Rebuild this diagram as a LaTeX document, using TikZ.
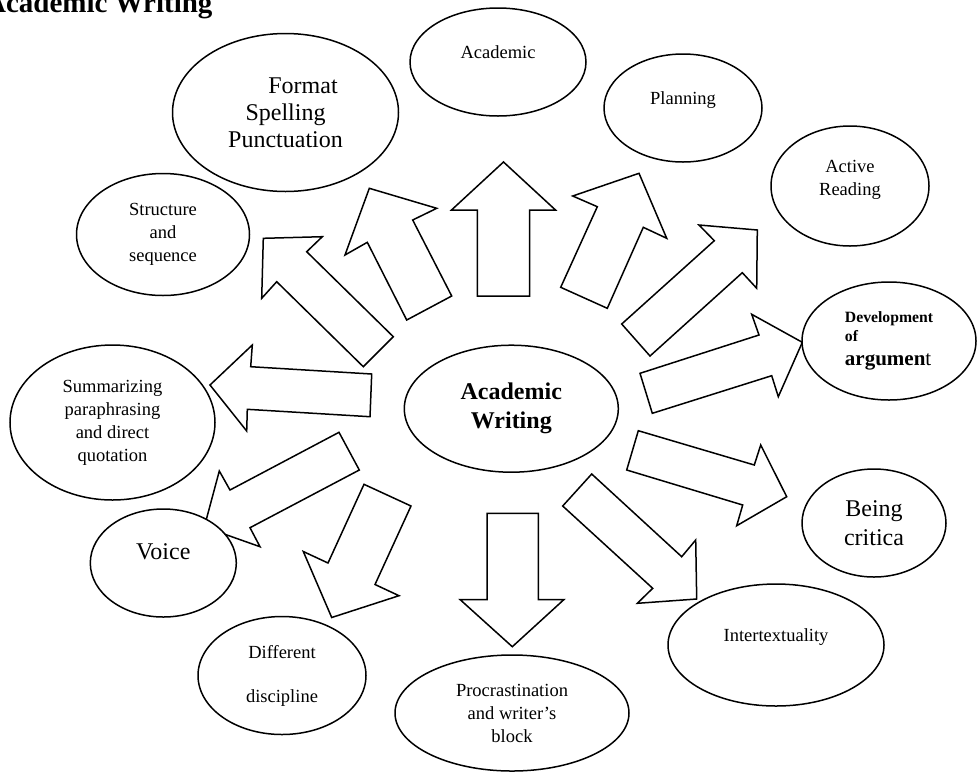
\documentclass[tikz,border=0pt]{standalone}
\usepackage{fontspec}
\setmainfont{Liberation Serif}
\usetikzlibrary{shapes.geometric}
\tikzstyle{bubble} = [ellipse, draw, line width=1.5pt, fill=white, inner sep=0pt, align=center]
\tikzstyle{blockarrow} = [draw, line width=1.5pt, fill=white, line join=miter]
\tikzstyle{smalltext} = [font=\fontsize{18.5}{23}\selectfont]
\tikzstyle{bigtext} = [font=\fontsize{24}{29}\selectfont]

\begin{document}
\begin{tikzpicture}[x=1pt, y=-1pt]
	\useasboundingbox (0,0) rectangle (979,772);
	\clip (0,0) rectangle (979,772);
	\node[anchor=base east, font=\fontsize{29}{35}\selectfont\bfseries] (title) at (216,12.7) {Academic Writing};
	% arrows
	\draw [blockarrow] (477.3,296) -- (477.3,210) -- (451.5,210) -- (503.5,162) -- (555.5,210) -- (529.5,210) -- (529.5,296) -- cycle;
	\draw [blockarrow] (560.7,287.3) -- (597.3,206.7) -- (572.7,196) -- (639,173.3) -- (666.7,238.3) -- (643.3,227.3) -- (607.3,308.3) -- cycle;
	\draw [blockarrow] (621.7,324) -- (714.3,240.7) -- (699,225) -- (757.3,230) -- (756.7,288.3) -- (742.3,272.7) -- (650,356) -- cycle;
	\draw [blockarrow] (640,373.3) -- (759,335) -- (751.7,314.3) -- (802.3,342.3) -- (778.3,396.7) -- (771.7,375.7) -- (652.3,413.3) -- cycle;
	\draw [blockarrow] (626.7,470) -- (638.3,430.7) -- (754.3,465) -- (760.7,445) -- (786.7,496.7) -- (736.7,525.7) -- (742.7,505) -- cycle;
	\draw [blockarrow] (562.7,506) -- (591.7,474) -- (681.7,556.7) -- (695.7,540) -- (696.7,599) -- (637.3,603.3) -- (652.7,588.3) -- cycle;
	\draw [blockarrow] (487,513.3) -- (538.3,513.3) -- (538.3,599.5) -- (564,599.5) -- (512.3,646.7) -- (460,599.5) -- (487,599.5) -- cycle;
	\draw [blockarrow] (364,484.3) -- (411,506) -- (375,584.5) -- (399,595.7) -- (331.7,617.5) -- (303.3,551.5) -- (328,563) -- cycle;
	\draw [blockarrow] (339,432.3) -- (230,490) -- (219.3,471) -- (204.3,527) -- (260,546.7) -- (250,527.7) -- (359.3,470) -- cycle;
	\draw [blockarrow] (371.7,374) -- (250.7,366.7) -- (252.3,345) -- (210,385) -- (246.7,431) -- (247.3,409.3) -- (370,416.7) -- cycle;
	\draw [blockarrow] (393.3,336.7) -- (306.7,251.7) -- (322.3,236.7) -- (263.3,238.3) -- (261.7,298.3) -- (276.7,281.7) -- (363.3,366.7) -- cycle;
	\draw [blockarrow] (451.7,296) -- (412.7,220) -- (436.7,208.3) -- (369.3,188.3) -- (345,255) -- (367.3,242.3) -- (406.7,320) -- cycle;
	% bubbles
	\node[bubble, font=\fontsize{24}{29}\selectfont\bfseries, minimum width=214pt, minimum height=127pt] (aw) at (511.3,408.7) {Academic\\Writing};
	\node[bubble, smalltext, minimum width=176pt, minimum height=108pt, text depth=20pt] (academic) at (498,62) {Academic};
	\node[bubble, smalltext, minimum width=158pt, minimum height=108pt, text depth=20pt] (planning) at (683,108) {Planning};
	\node[bubble, smalltext, minimum width=158pt, minimum height=120pt, text depth=17pt] (reading) at (850,186) {Active\\Reading};
	\node[bubble, align=left, font=\fontsize{15.7}{18.3}\selectfont\bfseries, minimum width=174pt, minimum height=118pt] (argument) at (889,341) {Development\\of\\[6pt]\fontsize{21}{18.3}\selectfont argumen{\mdseries t}};
	\node[bubble, bigtext, minimum width=144pt, minimum height=108pt] (critical) at (874,523) {Being\\critica};
	\node[bubble, smalltext, minimum width=216pt, minimum height=122pt, text depth=19pt] (intertext) at (776,645) {Intertextuality};
	\node[bubble, smalltext, minimum width=234pt, minimum height=116pt] (procrast) at (512,713) {Procrastination\\and writer’s\\block};
	\node[bubble, smalltext, minimum width=168pt, minimum height=118pt] (discipline) at (282,675.5) {Different\\[21pt]discipline};
	\node[bubble, bigtext, minimum width=146pt, minimum height=108pt, text depth=22pt] (voice) at (163.3,563) {Voice};
	\node[bubble, smalltext, minimum width=205pt, minimum height=155pt] (summary) at (112.5,422.5) {Summarizing\\paraphrasing\\and direct\\quotation};
	\node[bubble, smalltext, minimum width=173pt, minimum height=122pt] (structure) at (163,234.5) {Structure\\and\\sequence};
	\node[bubble, font=\fontsize{24}{27}\selectfont, minimum width=226pt, minimum height=158pt] (format) at (285.5,112.5) {\hspace*{35pt}Format\\Spelling\\Punctuation};
\end{tikzpicture}
\end{document}
